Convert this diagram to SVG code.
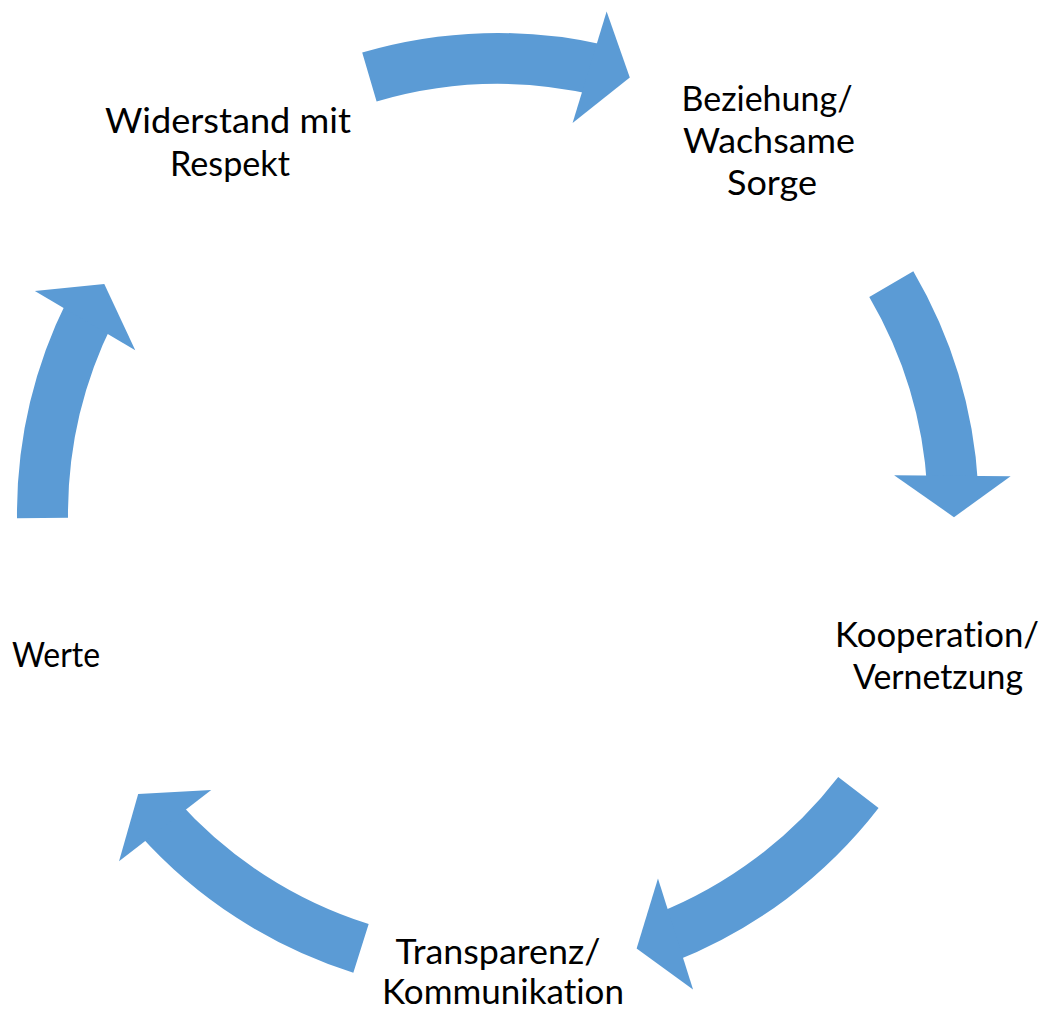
<svg xmlns="http://www.w3.org/2000/svg" xmlns:xlink="http://www.w3.org/1999/xlink" width="1047" height="1012" viewBox="0 0 1047 1012">
  <style>
    .shaft { fill: none; stroke: #5B9BD5; stroke-width: 51; stroke-linecap: butt; }
    .head { fill: #5B9BD5; }
    .lbl { font-family: Lato, "Open Sans", "Liberation Sans", sans-serif; font-size: 35px; fill: #000000; text-anchor: middle; font-variant-ligatures: none; font-feature-settings: "liga" 0, "clig" 0; }
  </style>
  <defs>
    <polygon id="head" class="head" points="895.97,509.14 952.05,556.12 1011.96,520.28"/>
  </defs>
  <rect width="1047" height="1012" fill="#FFFFFF"/>
  <g id="connectors">
    <g id="arrow1">
      <path class="shaft" d="M369.4,77.0 A455.5,455.5 0 0 1 600.5,70.2"/>
      <use xlink:href="#head" href="#head" transform="rotate(281.5 498 514)"/>
    </g>
    <g id="arrow2">
      <path class="shaft" d="M891.3,284.2 A455.5,455.5 0 0 1 952.7,487.0"/>
      <use xlink:href="#head" href="#head" transform="rotate(355.1 498 514)"/>
    </g>
    <g id="arrow3">
      <path class="shaft" d="M858.4,792.5 A455.5,455.5 0 0 1 664.9,937.8"/>
      <use xlink:href="#head" href="#head" transform="rotate(67.0 498 514)"/>
    </g>
    <g id="arrow4">
      <path class="shaft" d="M361.0,948.4 A455.5,455.5 0 0 1 157.9,817.0"/>
      <use xlink:href="#head" href="#head" transform="rotate(136.8 498 514)"/>
    </g>
    <g id="arrow5">
      <path class="shaft" d="M42.5,518.0 A455.5,455.5 0 0 1 90.4,310.8"/>
      <use xlink:href="#head" href="#head" transform="rotate(205.0 498 514)"/>
    </g>
  </g>
  <g id="node-widerstand">
    <text class="lbl" x="228" y="133" textLength="246" lengthAdjust="spacingAndGlyphs">Widerstand mit</text>
    <text class="lbl" x="230" y="176" textLength="120" lengthAdjust="spacingAndGlyphs">Respekt</text>
  </g>
  <g id="node-beziehung">
    <text class="lbl" x="767" y="111" textLength="171" lengthAdjust="spacingAndGlyphs">Beziehung/</text>
    <text class="lbl" x="769" y="153" textLength="172" lengthAdjust="spacingAndGlyphs">Wachsame</text>
    <text class="lbl" x="772" y="195" textLength="90" lengthAdjust="spacingAndGlyphs">Sorge</text>
  </g>
  <g id="node-kooperation">
    <text class="lbl" x="937" y="647" textLength="204" lengthAdjust="spacingAndGlyphs">Kooperation/</text>
    <text class="lbl" x="938" y="689" textLength="170" lengthAdjust="spacingAndGlyphs">Vernetzung</text>
  </g>
  <g id="node-transparenz">
    <text class="lbl" x="498" y="964" textLength="205" lengthAdjust="spacingAndGlyphs">Transparenz/</text>
    <text class="lbl" x="503" y="1004" textLength="242" lengthAdjust="spacingAndGlyphs">Kommunikation</text>
  </g>
  <g id="node-werte">
    <text class="lbl" x="56" y="667" textLength="88" lengthAdjust="spacingAndGlyphs">Werte</text>
  </g>
</svg>
